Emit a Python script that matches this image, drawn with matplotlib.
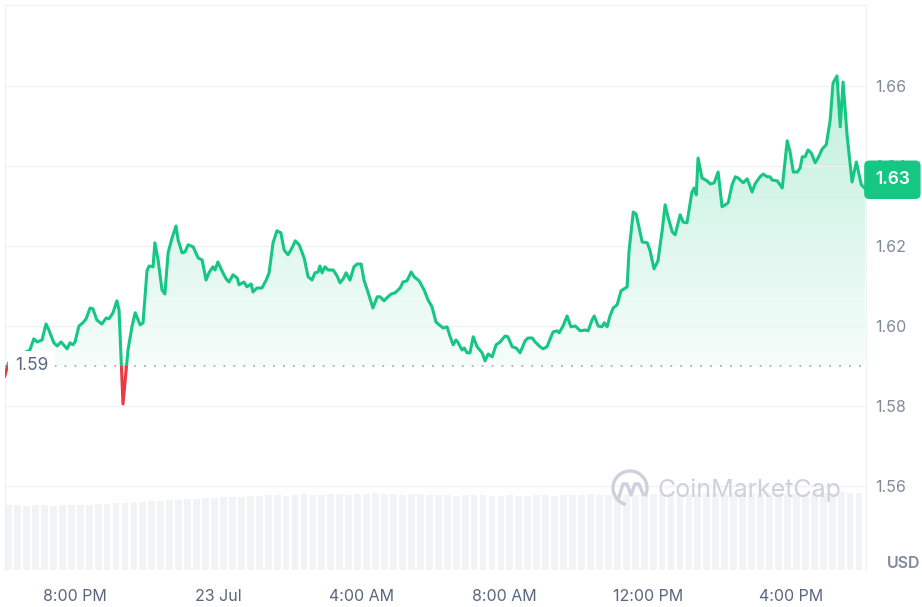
import numpy as np
import matplotlib.pyplot as plt
from matplotlib.colors import LinearSegmentedColormap
from matplotlib.patches import Rectangle, Arc
from matplotlib.transforms import blended_transform_factory

plt.rcParams['font.family'] = ['Inter', 'DejaVu Sans']

# hours relative to 8:00 PM (22 Jul)
hours = [
    -1.96, -1.87, -1.76, -1.54, -1.37, -1.26, -1.15, -1.06, -0.92, -0.81,
    -0.73, -0.59, -0.50, -0.39, -0.22, -0.14, -0.06, 0.00, 0.11, 0.22,
    0.31, 0.42, 0.50, 0.61, 0.75, 0.87, 0.95, 1.06, 1.17, 1.23,
    1.34, 1.48, 1.59, 1.68, 1.82, 1.90, 2.01, 2.07, 2.18, 2.23,
    2.32, 2.43, 2.51, 2.60, 2.71, 2.82, 2.88, 2.99, 3.07, 3.16,
    3.30, 3.44, 3.55, 3.66, 3.74, 3.85, 3.91, 3.99, 4.13, 4.22,
    4.30, 4.41, 4.53, 4.58, 4.72, 4.80, 4.92, 4.97, 5.08, 5.22,
    5.34, 5.42, 5.53, 5.64, 5.75, 5.84, 5.95, 6.06, 6.15, 6.26,
    6.40, 6.51, 6.62, 6.70, 6.79, 6.84, 6.90, 6.98, 7.07, 7.21,
    7.32, 7.40, 7.49, 7.57, 7.68, 7.79, 7.88, 7.99, 8.07, 8.18,
    8.32, 8.44, 8.52, 8.63, 8.74, 8.83, 8.94, 9.08, 9.16, 9.27,
    9.39, 9.47, 9.61, 9.75, 9.86, 9.97, 10.08, 10.17, 10.28, 10.39,
    10.47, 10.56, 10.64, 10.70, 10.81, 10.87, 10.95, 11.03, 11.12, 11.23,
    11.37, 11.45, 11.54, 11.65, 11.76, 11.87, 12.01, 12.09, 12.21, 12.32,
    12.43, 12.57, 12.65, 12.77, 12.85, 12.99, 13.07, 13.18, 13.27, 13.35,
    13.46, 13.52, 13.63, 13.74, 13.85, 13.97, 14.11, 14.25, 14.33, 14.44,
    14.50, 14.61, 14.72, 14.78, 14.86, 14.94, 15.03, 15.14, 15.25, 15.34,
    15.42, 15.47, 15.59, 15.67, 15.84, 15.98, 16.06, 16.17, 16.28, 16.40,
    16.48, 16.56, 16.68, 16.76, 16.90, 16.98, 17.09, 17.23, 17.29, 17.35,
    17.40, 17.51, 17.65, 17.74, 17.85, 17.96, 18.07, 18.16, 18.24, 18.35,
    18.44, 18.52, 18.66, 18.77, 18.91, 18.99, 19.13, 19.22, 19.33, 19.41,
    19.47, 19.61, 19.75, 19.89, 19.97, 20.06, 20.17, 20.25, 20.31, 20.39,
    20.47, 20.56, 20.67, 20.75, 20.87, 20.98, 21.09, 21.17, 21.28, 21.37,
    21.45, 21.56, 21.70, 21.82, 21.96, 22.07,
]
price = [
    1.5875, 1.5905, 1.5925, 1.5928, 1.5935, 1.5940, 1.5968, 1.5960, 1.5965, 1.6005,
    1.5990, 1.5958, 1.5950, 1.5960, 1.5943, 1.5958, 1.5953, 1.5960, 1.6000, 1.6008,
    1.6018, 1.6045, 1.6043, 1.6015, 1.6005, 1.6020, 1.6018, 1.6033, 1.6063, 1.6040,
    1.5805, 1.5940, 1.5998, 1.6033, 1.6003, 1.6008, 1.6138, 1.6150, 1.6148, 1.6208,
    1.6165, 1.6090, 1.6080, 1.6183, 1.6220, 1.6250, 1.6215, 1.6183, 1.6185, 1.6203,
    1.6198, 1.6170, 1.6165, 1.6115, 1.6133, 1.6148, 1.6140, 1.6160, 1.6133, 1.6118,
    1.6110, 1.6128, 1.6120, 1.6103, 1.6110, 1.6098, 1.6105, 1.6085, 1.6095, 1.6095,
    1.6115, 1.6133, 1.6208, 1.6238, 1.6233, 1.6190, 1.6178, 1.6195, 1.6213, 1.6203,
    1.6170, 1.6123, 1.6115, 1.6133, 1.6135, 1.6150, 1.6133, 1.6148, 1.6140, 1.6140,
    1.6125, 1.6108, 1.6118, 1.6133, 1.6115, 1.6148, 1.6155, 1.6155, 1.6115, 1.6085,
    1.6045, 1.6073, 1.6073, 1.6063, 1.6073, 1.6080, 1.6083, 1.6095, 1.6110, 1.6113,
    1.6135, 1.6123, 1.6113, 1.6090, 1.6065, 1.6048, 1.6010, 1.6003, 1.5995, 1.5998,
    1.5975, 1.5953, 1.5965, 1.5958, 1.5940, 1.5945, 1.5933, 1.5933, 1.5973, 1.5948,
    1.5933, 1.5913, 1.5930, 1.5923, 1.5953, 1.5960, 1.5975, 1.5973, 1.5948, 1.5945,
    1.5933, 1.5963, 1.5970, 1.5970, 1.5960, 1.5948, 1.5943, 1.5948, 1.5968, 1.5985,
    1.5988, 1.5983, 1.6000, 1.6025, 1.5998, 1.6000, 1.5988, 1.5990, 1.5988, 1.6015,
    1.6025, 1.6000, 1.5998, 1.6008, 1.5998, 1.6025, 1.6045, 1.6053, 1.6088, 1.6093,
    1.6098, 1.6185, 1.6285, 1.6280, 1.6210, 1.6208, 1.6188, 1.6143, 1.6163, 1.6240,
    1.6303, 1.6273, 1.6235, 1.6228, 1.6278, 1.6260, 1.6258, 1.6335, 1.6345, 1.6328,
    1.6420, 1.6370, 1.6363, 1.6355, 1.6358, 1.6385, 1.6298, 1.6303, 1.6308, 1.6353,
    1.6373, 1.6370, 1.6358, 1.6368, 1.6335, 1.6355, 1.6373, 1.6380, 1.6373, 1.6373,
    1.6365, 1.6363, 1.6345, 1.6463, 1.6435, 1.6385, 1.6385, 1.6395, 1.6423, 1.6423,
    1.6440, 1.6433, 1.6408, 1.6420, 1.6443, 1.6453, 1.6515, 1.6608, 1.6625, 1.6498,
    1.6610, 1.6478, 1.6360, 1.6410, 1.6353, 1.6343,
]
open_price = 1.59

# volume, 15-minute buckets starting at 6:03 PM (arbitrary units)
volume = [
    6.5, 6.5, 6.4, 6.5, 6.5, 6.4, 6.5, 6.5, 6.5, 6.5, 6.6,
    6.6, 6.7, 6.7, 6.8, 6.8, 6.9, 6.9, 7.0, 7.0, 7.1, 7.1, 7.2, 7.2, 7.3, 7.3, 7.3, 7.4,
    7.4, 7.5, 7.5, 7.4, 7.5, 7.6, 7.5, 7.5, 7.6, 7.6, 7.5, 7.6, 7.6, 7.7, 7.6, 7.6,
    7.5, 7.6, 7.6, 7.5, 7.5, 7.5, 7.4, 7.5, 7.5, 7.5, 7.4, 7.4, 7.5, 7.4, 7.4, 7.5,
    7.5, 7.4, 7.5, 7.5, 7.5, 7.6, 7.5, 7.5, 7.6, 7.6, 7.5, 7.6, 7.6, 7.6, 7.7, 7.6,
    7.6, 7.6, 7.7, 7.7, 7.6, 7.7, 7.7, 7.6, 7.7, 7.7, 7.7, 7.6, 7.7, 7.7, 7.8, 7.7,
    7.7, 7.8, 7.7, 7.7,
]
vol_start = -1.95
vol_step = 0.25

tick_hours = [0, 4, 8, 12, 16, 20]
tick_labels = ["8:00 PM", "23 Jul", "4:00 AM", "8:00 AM", "12:00 PM", "4:00 PM"]
price_ticks = [1.56, 1.58, 1.60, 1.62, 1.64, 1.66]

green = "#16c784"
red = "#ea3943"
grid_c = "#eff2f5"

hours = np.array(hours)
price = np.array(price)
x0, x1 = -1.955, 22.09
y0, y1 = 1.539, 1.68025

fig = plt.figure(figsize=(9.22, 6.07), dpi=100)
rect = [5 / 922, 1 - 570 / 607, 861 / 922, 565 / 607]

# volume layer
axv = fig.add_axes(rect, zorder=0)
vol_t = vol_start + vol_step * np.arange(len(volume))
axv.bar(vol_t, volume, width=0.19, align="edge", color="#eceef2", alpha=0.7, linewidth=0)
axv.set_xlim(x0, x1)
axv.set_ylim(0, 56.5)
axv.axis("off")

# price layer
ax = fig.add_axes(rect, zorder=1)
ax.patch.set_visible(False)
ax.set_xlim(x0, x1)
ax.set_ylim(y0, y1)

ax.set_yticks(price_ticks)
ax.set_yticklabels([f"{v:.2f}" for v in price_ticks])
ax.yaxis.tick_right()
ax.grid(axis="y", color=grid_c, lw=1, zorder=0)
ax.tick_params(axis="y", length=0, pad=7, labelsize=11.5, labelcolor="#808a9d")
ax.set_xticks(tick_hours)
ax.set_xticklabels(tick_labels)
ax.tick_params(axis="x", length=0, pad=14, labelsize=11.5, labelcolor="#58667e")
for s in ["top", "left", "right"]:
    ax.spines[s].set_color(grid_c)
ax.spines["bottom"].set_visible(False)

# gradient area above open
cmap = LinearSegmentedColormap.from_list(
    "g", [(0.086, 0.78, 0.518, 0.04), (0.086, 0.78, 0.518, 0.27)])
grad = np.linspace(0, 1, 256).reshape(-1, 1)
im = ax.imshow(grad, extent=[x0, x1, open_price, price.max()], origin="lower",
               cmap=cmap, aspect="auto", zorder=1, interpolation="bilinear")
area = ax.fill_between(hours, price, open_price, facecolor="none", edgecolor="none")
im.set_clip_path(area.get_paths()[0], ax.transData)
ax.set_xlim(x0, x1)
ax.set_ylim(y0, y1)

# red area below open
ax.fill_between(hours, price, open_price, where=price < open_price,
                interpolate=True, color=red, alpha=0.13, linewidth=0, zorder=1)

# line, green above open and red below
lg, = ax.plot(hours, price, color=green, lw=2.2, zorder=4, solid_joinstyle="round")
lg.set_clip_path(Rectangle((x0, open_price), x1 - x0, 1, transform=ax.transData))
lr, = ax.plot(hours, price, color=red, lw=2.2, zorder=4, solid_joinstyle="round")
lr.set_clip_path(Rectangle((x0, open_price - 1), x1 - x0, 1, transform=ax.transData))

# open price reference
ax.axhline(open_price, color="#a6adbf", lw=1.3, ls=(0, (1, 4.5)), zorder=3)
btr = blended_transform_factory(ax.transAxes, ax.transData)
ax.text(0.0116, open_price, "1.59", transform=btr, ha="left", va="center",
        fontsize=12.5, color="#58667e", zorder=5,
        bbox=dict(boxstyle="square,pad=0.4", fc="white", ec="none"))

# last price badge
ax.annotate(f"{price[-1]:.2f}", xy=(1, price[-1]), xycoords=btr,
            xytext=(19, 6.5), textcoords="offset points", ha="center", va="center",
            fontsize=12.5, color="white", weight="semibold", zorder=6,
            annotation_clip=False,
            bbox=dict(boxstyle="round,pad=0.62,rounding_size=0.3", fc=green, ec="none"))

fig.text(887 / 922, 1 - 564 / 607, "USD", fontsize=11.5, color="#808a9d",
         weight="semibold", ha="left", va="center")

# watermark
fig.text(749 / 922, 1 - 490 / 607, "CoinMarketCap", fontsize=18, color="#cdd1db",
         ha="center", va="center")
cx, cy, r = 630 / 922, 1 - 488 / 607, 17
fig.patches.append(Arc((cx, cy), 2 * r / 922, 2 * r / 607, theta1=-40, theta2=260,
                       transform=fig.transFigure, color="#cdd1db", lw=2.4))
wx = np.array([619, 623, 627, 631, 635, 639, 643]) / 922
wy = 1 - np.array([497, 484, 484, 495, 484, 484, 494]) / 607
fig.lines.append(plt.Line2D(wx, wy, transform=fig.transFigure, color="#cdd1db",
                            lw=2.4, solid_joinstyle="round"))

fig.savefig("out.png", dpi=100)
